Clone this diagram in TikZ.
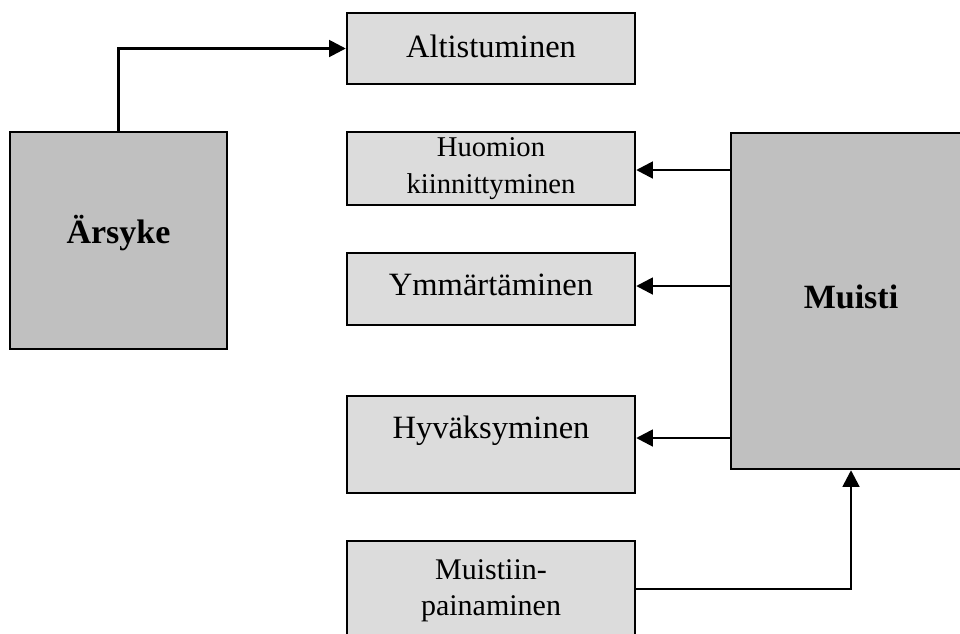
\documentclass[tikz,border=0pt]{standalone}
\usepackage{fontspec}
\setmainfont{Liberation Serif}
\usetikzlibrary{arrows.meta}
\definecolor{lightbox}{HTML}{DCDCDC}
\definecolor{darkbox}{HTML}{C0C0C0}
\tikzset{
  stage/.style={draw=black, line width=1.8pt, fill=lightbox, minimum width=216pt,
    font=\fontsize{24.4}{28}\selectfont, text height=16.1pt},
  stagetwo/.style={draw=black, line width=1.8pt, fill=lightbox, minimum width=216pt,
    align=center},
  major/.style={draw=black, line width=1.8pt, fill=darkbox,
    font=\bfseries\fontsize{25.5}{30}\selectfont, text height=16.9pt},
  flow/.style={line width=2pt, -{Triangle[length=12.5pt,width=12.5pt]}},
}
\begin{document}
\begin{tikzpicture}[x=0.75pt, y=-0.75pt]
  \clip (0,0) rectangle (960,633);
  \fill[white] (0,0) rectangle (960,633);

  % left stimulus block
  \node[major, minimum width=162.75pt, minimum height=162.75pt, text depth=11.7pt]
    (ars) at (118.5,240.5) {Ärsyke};

  % processing stages
  \node[stage, minimum height=53.25pt, text depth=2.2pt]
    (alt) at (491,48.5) {Altistuminen};
  \node[stagetwo, minimum height=54.75pt, font=\fontsize{21.5}{28}\selectfont]
    (huo) at (491,168.5) {Huomion\\kiinnittyminen};
  \node[stage, minimum height=54pt, text depth=6pt]
    (ymm) at (491,289) {Ymmärtäminen};
  \node[stage, minimum height=72.75pt, text depth=24.8pt]
    (hyv) at (491,444.5) {Hyväksyminen};
  \node[stagetwo, minimum height=74.25pt, font=\fontsize{22.5}{27}\selectfont]
    (mpa) at (491,590.5) {Muistiin-\\painaminen};

  % memory block
  \node[major, minimum width=180pt, minimum height=252pt, text depth=6pt]
    (mui) at (851,301) {Muisti};

  % connectors
  \draw[flow] (ars.north) |- (alt.west);
  \draw[flow] (mui.west |- 0,170) -- (huo.east |- 0,170);
  \draw[flow] (mui.west |- 0,286) -- (ymm.east |- 0,286);
  \draw[flow] (mui.west |- 0,438) -- (hyv.east |- 0,438);
  \draw[flow] (mpa.east |- 0,589) -| (mui.south);
\end{tikzpicture}
\end{document}
